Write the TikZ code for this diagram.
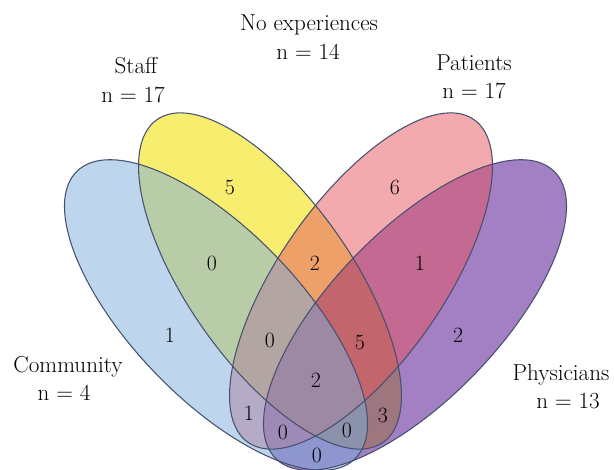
\documentclass[tikz,border=0pt]{standalone}
\definecolor{commblue}{RGB}{123,173,221}
\definecolor{staffyellow}{RGB}{240,224,0}
\definecolor{patpink}{RGB}{229,85,95}
\definecolor{physpurple}{RGB}{71,0,137}
\definecolor{rim}{RGB}{70,80,110}
\tikzstyle{set}=[fill opacity=0.5]
\tikzstyle{rimline}=[draw=rim, line width=0.75pt]
\tikzstyle{count}=[font=\fontsize{15.5}{18}\selectfont]
\tikzstyle{setlabel}=[font=\fontsize{16.4}{19}\selectfont, anchor=base]

\begin{document}
\begin{tikzpicture}[x=0.025cm, y=-0.025cm]
  \useasboundingbox (0,0) rectangle (614,469);

  %% Fills (staff, physicians, patients, community)
  \fill[set, staffyellow, fill opacity=0.56, rotate around={-55:(270,281)}] (270,281) ellipse [x radius=197, y radius=82];
  \fill[set, physpurple, rotate around={46:(415,315)}] (415,315) ellipse [x radius=200, y radius=84];
  \fill[set, patpink, rotate around={55:(361,281)}] (361,281) ellipse [x radius=197, y radius=82];
  \fill[set, commblue, rotate around={-46:(216,315)}] (216,315) ellipse [x radius=200, y radius=84];

  %% Outlines
  \draw[rimline, rotate around={-55:(270,281)}] (270,281) ellipse [x radius=197, y radius=82];
  \draw[rimline, rotate around={46:(415,315)}] (415,315) ellipse [x radius=200, y radius=84];
  \draw[rimline, rotate around={55:(361,281)}] (361,281) ellipse [x radius=197, y radius=82];
  \draw[rimline, rotate around={-46:(216,315)}] (216,315) ellipse [x radius=200, y radius=84];

  %% Set labels
  \draw (309,30.7) node[setlabel] (noexp) {No experiences};
  \draw (308,59) node[setlabel] (noexpn) {n = 14};
  \draw (136,73) node[setlabel] (staff) {Staff};
  \draw (133,102) node[setlabel] (staffn) {n = 17};
  \draw (474,70) node[setlabel] (pat) {Patients};
  \draw (474,98) node[setlabel] (patn) {n = 17};
  \draw (68,372) node[setlabel] (comm) {Community};
  \draw (64,400) node[setlabel] (commn) {n = 4};
  \draw (561,380) node[setlabel] (phys) {Physicians};
  \draw (568,408.5) node[setlabel] (physn) {n = 13};

  %% Region counts
  \draw (230,187) node[count] (S) {5};
  \draw (395,187) node[count] (P) {6};
  \draw (170,335) node[count] (C) {1};
  \draw (458,335) node[count] (D) {2};
  \draw (212,263) node[count] (CS) {0};
  \draw (315,263) node[count] (SP) {2};
  \draw (420,263) node[count] (PD) {1};
  \draw (270,340) node[count] (CSP) {0};
  \draw (360,342) node[count] (SPD) {5};
  \draw (316,380) node[count] (CSPD) {2};
  \draw (249,413) node[count] (CP) {1};
  \draw (383,415) node[count] (SD) {3};
  \draw (283,432) node[count] (CPD) {0};
  \draw (347,430) node[count] (CSD) {0};
  \draw (317,455) node[count] (CD) {0};
\end{tikzpicture}
\end{document}
